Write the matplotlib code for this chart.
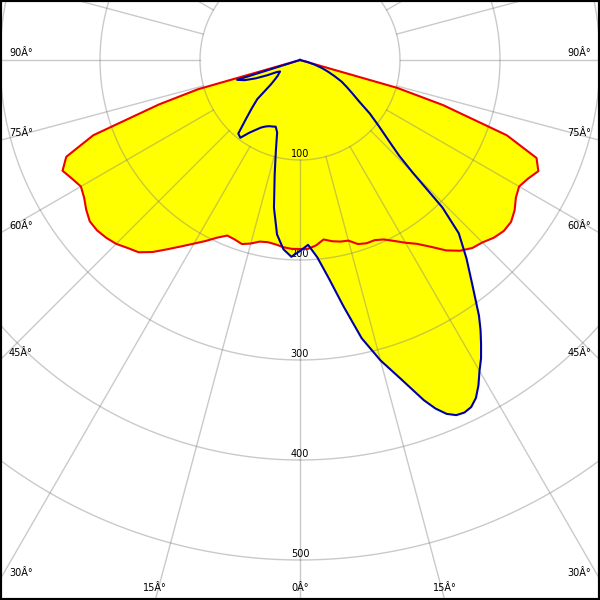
import numpy as np
import matplotlib
matplotlib.use("Agg")
import matplotlib.pyplot as plt
from matplotlib.patches import Rectangle

# Angles in degrees from nadir (negative = left half), intensities in cd
red_angles = [-90, -87.5, -85, -82.5, -80, -77.5, -75, -74, -72.5, -70, -67.5, -65,
              -62.5, -60, -57.5, -55, -52.5, -50, -47.5, -45, -42.5, -40, -37.5,
              -35, -32.5, -30, -27.5, -25, -22.5, -20, -17.5, -15, -12.5, -10,
              -7.5, -5, -2.5, 0, 2.5, 5, 7.5, 10, 12.5, 15, 17.5, 20, 22.5, 25,
              27.5, 30, 32.5, 35, 37.5, 40, 42.5, 45, 47.5, 50, 52.5, 55, 57.5,
              60, 62.5, 65, 67.5, 70, 72.5, 74, 75, 77.5, 80, 85, 90]
red_values = [0, 0, 0, 0, 0, 0, 0, 106, 148, 220, 253, 262,
              257, 253, 256, 261, 265, 265, 263, 260, 255, 251, 242,
              231, 221, 212, 204, 196, 190, 191, 193, 190, 186, 185,
              186, 188, 189, 189, 189, 186, 181, 184, 186, 187, 193, 195, 195, 198,
              204, 211, 218, 228, 240, 249, 255, 258, 263, 266, 266, 262, 256,
              253, 257, 263, 256, 220, 150, 101, 0, 0, 0, 0, 0]

blue_angles = [-90, -80, -75, -72.5, -70, -67.5, -65, -62.5, -60, -57.5, -55,
               -52.5, -50, -47.5, -45, -42.5, -40, -37.5, -35, -32.5, -30, -27.5,
               -25, -22.5, -20, -17.5, -15, -12.5, -10, -7.5, -5, -2.5, 0, 2.5,
               5, 7.5, 10, 12.5, 15, 17.5, 20, 21.25, 22.5, 23.75, 25, 26.25,
               27.5, 28.75, 30, 31.25, 32.5, 33.75, 35, 37.5,
               40, 42.5, 44, 45, 46, 47.5, 50, 52.5, 55, 57.5, 60, 62.5, 65, 67.5,
               70, 72.5, 75, 80, 90]
blue_values = [0, 0, 0, 66, 59, 48, 36, 26, 23, 25, 27,
               31, 38, 58, 68, 80, 96, 98, 89, 83, 78, 75,
               73, 72, 71, 76, 93, 117, 150, 176, 190, 197, 191, 185,
               198, 220, 250, 285, 311, 334, 362, 374, 383, 388, 389, 387,
               381, 371, 359, 349, 337, 325, 312, 283,
               259, 235, 205, 160, 138, 122, 103, 88, 72, 62, 54, 47, 38, 30,
               23, 15, 8, 0, 0]

ring_values = [100, 200, 300, 400, 500]
ring_labels = ["100", "200", "300", "400", "500"]
spoke_step = 15
side_label_angles = [90, 75, 60, 45, 30]
bottom_label_angles = [-15, 0, 15]

W = H = 600
RMAX = 600
CX, CY = 300, 60  # pole position in pixels from top-left

fig = plt.figure(figsize=(6, 6), dpi=100)
fig.patch.set_facecolor("white")
ax = fig.add_axes([(CX - RMAX) / W, (H - CY - RMAX) / H, 2 * RMAX / W, 2 * RMAX / H],
                  projection="polar")
ax.set_theta_zero_location("S")
ax.set_ylim(0, RMAX)
ax.set_axis_off()

grid_kw = dict(color="#808080", alpha=0.42, lw=1.0, zorder=2)
full = np.linspace(0, 2 * np.pi, 721)
for rv in ring_values:
    ax.plot(full, np.full_like(full, rv), **grid_kw)
for a in np.arange(0, 360, spoke_step):
    t = np.deg2rad(a)
    ax.plot([t, t], [ring_values[0], RMAX], **grid_kw)

rt = np.deg2rad(red_angles)
bt = np.deg2rad(blue_angles)
ax.fill(rt, red_values, color="#FFFF00", lw=0, zorder=1)
ax.fill(bt, blue_values, color="#FFFF00", lw=0, zorder=1)
ax.plot(rt, red_values, color="#EE0000", lw=1.5, zorder=3)
ax.plot(bt, blue_values, color="#0000A8", lw=1.5, zorder=4)

for rv, lab in zip(ring_values, ring_labels):
    ax.text(0, rv - 6, lab, ha="center", va="center", fontsize=7, zorder=2.5)

for a in side_label_angles:
    t = np.deg2rad(a)
    yline = CY + (CX * np.cos(t) / np.sin(t))
    yf = 1 - (yline - 7) / H
    fig.text(9 / W, yf, f"{a}Â°", ha="left", va="center", fontsize=7)
    fig.text(591 / W, yf, f"{a}Â°", ha="right", va="center", fontsize=7)
for a in bottom_label_angles:
    t = np.deg2rad(a)
    x = CX + (H - CY) * np.tan(t)
    fig.text(x / W, 1 - 588 / H, f"{abs(a)}Â°", ha="center", va="center", fontsize=7)

fig.add_artist(Rectangle((0, 0), 1, 1, transform=fig.transFigure, fill=False,
                         edgecolor="black", lw=3, zorder=10))

fig.savefig("out.png", dpi=100)
